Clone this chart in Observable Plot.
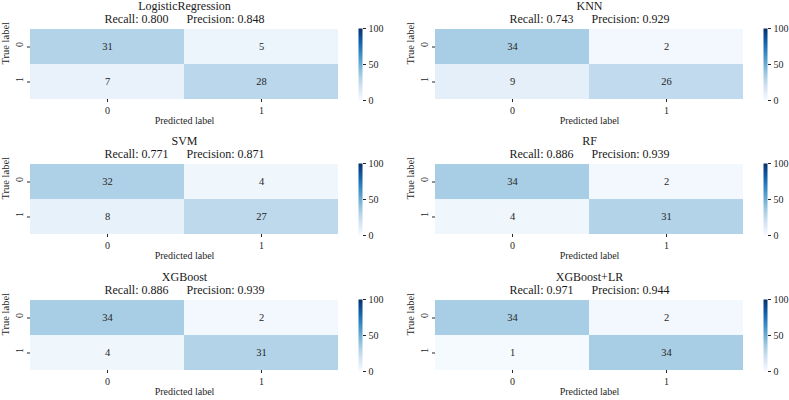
<!DOCTYPE html>
<html><head><meta charset="utf-8">
<script src="https://cdn.jsdelivr.net/npm/d3@7"></script>
<script src="https://cdn.jsdelivr.net/npm/@observablehq/plot@0.6"></script>
<style>
body{margin:0;background:#fff;}
#chart{position:relative;width:789px;height:400px;overflow:hidden;font-family:"Liberation Serif",serif;}
#chart svg{position:absolute;}
#chart svg text{font-family:"Liberation Serif",serif;}
</style></head><body><div id="chart"></div>
<script>
const models = ["LogisticRegression", "KNN", "SVM", "RF", "XGBoost", "XGBoost+LR"];
const recall = ["0.800", "0.743", "0.771", "0.886", "0.886", "0.971"];
const precision = ["0.848", "0.929", "0.871", "0.939", "0.939", "0.944"];
const trueNeg = [31, 34, 32, 34, 34, 34];
const falsePos = [5, 2, 4, 2, 2, 2];
const falseNeg = [7, 9, 8, 4, 4, 1];
const truePos = [28, 26, 27, 31, 31, 34];
const classLabels = ["0", "1"];
const colorbarTicks = [0, 50, 100];
const colorDomain = [0, 100];

const FONT = "'Liberation Serif', 'Times New Roman', serif";
const chart = document.getElementById("chart");
const colLeft = [30, 435];
const rowTop = [29, 164, 300];
const hmW = 308, hmH = 70;
const mTop = 29, mBottom = 32, mLeft = 30, mRight = 4;
const baseStyle = {fontFamily: FONT, fontSize: "10px", color: "#262626", background: "transparent", overflow: "visible"};

models.forEach((name, i) => {
  const col = i % 2, row = Math.floor(i / 2);
  const cells = [
    {t: classLabels[0], p: classLabels[0], v: trueNeg[i]},
    {t: classLabels[0], p: classLabels[1], v: falsePos[i]},
    {t: classLabels[1], p: classLabels[0], v: falseNeg[i]},
    {t: classLabels[1], p: classLabels[1], v: truePos[i]}
  ];
  const subtitle = `Recall: ${recall[i]}` + "\u00a0".repeat(6) + `Precision: ${precision[i]}`;
  const color = {type: "linear", scheme: "blues", domain: colorDomain};
  const hm = Plot.plot({
    width: mLeft + hmW + mRight, height: mTop + hmH + mBottom,
    marginLeft: mLeft, marginRight: mRight, marginTop: mTop, marginBottom: mBottom,
    style: baseStyle,
    x: {type: "band", domain: classLabels, padding: 0},
    y: {type: "band", domain: classLabels, padding: 0},
    color,
    marks: [
      Plot.cell(cells, {x: "p", y: "t", fill: "v"}),
      Plot.text(cells, {x: "p", y: "t", text: d => String(d.v), fill: "#262626", fontSize: 10.5, fontFamily: FONT}),
      Plot.axisX({label: null, tickSize: 3, tickPadding: 4, fontSize: 10, fontFamily: FONT}),
      Plot.axisY({label: null, tickSize: 3, tickPadding: 4, tickFormat: () => "", fontFamily: FONT}),
      Plot.text(classLabels, {y: d => d, text: d => d, frameAnchor: "left", dx: -11, rotate: -90, fontSize: 10, fill: "#262626", fontFamily: FONT}),
      Plot.text([name], {text: d => d, frameAnchor: "top", dy: -20, lineAnchor: "bottom", fontSize: 12, fill: "#1a1a1a", fontFamily: FONT}),
      Plot.text([subtitle], {text: d => d, frameAnchor: "top", dy: -7, lineAnchor: "bottom", fontSize: 12, fill: "#1a1a1a", fontFamily: FONT}),
      Plot.text(["Predicted label"], {text: d => d, frameAnchor: "bottom", dy: 24, fontSize: 10, fontFamily: FONT}),
      Plot.text(["True label"], {text: d => d, frameAnchor: "left", dx: -25, rotate: -90, fontSize: 10.5, fontFamily: FONT})
    ]
  });
  hm.style.left = (colLeft[col] - mLeft) + "px";
  hm.style.top = (rowTop[row] - mTop) + "px";
  chart.appendChild(hm);

  const cb = Plot.plot({
    width: 4 + 30, height: mTop + hmH + mBottom,
    marginLeft: 0, marginRight: 30, marginTop: mTop - 1, marginBottom: mBottom - 1,
    style: baseStyle,
    x: {domain: [0, 1], axis: null},
    y: {domain: colorDomain, axis: null},
    color,
    marks: [
      Plot.raster({fill: (x, y) => y, x1: 0, x2: 1, y1: colorDomain[0], y2: colorDomain[1], width: 1, height: 200}),
      Plot.axisY({anchor: "right", ticks: colorbarTicks, tickSize: 3, tickPadding: 3, label: null, fontSize: 10, fontFamily: FONT})
    ]
  });
  cb.style.left = (colLeft[col] + hmW + 20) + "px";
  cb.style.top = (rowTop[row] - mTop) + "px";
  chart.appendChild(cb);
});
</script></body></html>
